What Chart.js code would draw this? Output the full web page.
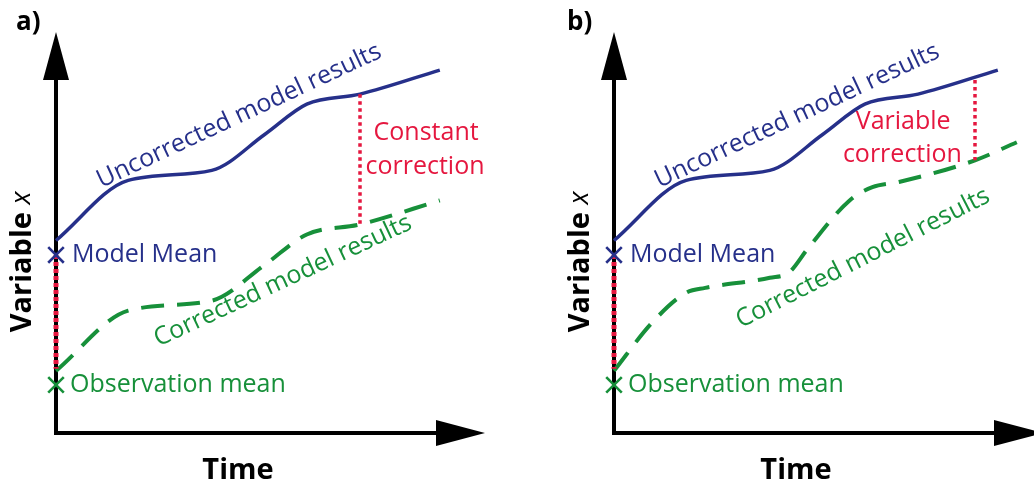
<!DOCTYPE html>
<html>
<head>
<meta charset="utf-8">
<script src="https://cdn.jsdelivr.net/npm/chart.js@4.4.1/dist/chart.umd.min.js"></script>
<style>
  html, body { margin: 0; padding: 0; background: #ffffff; }
  #wrap { display: flex; width: 1034px; height: 485px; overflow: hidden; }
  .panel { width: 517px; height: 485px; position: relative; }
</style>
</head>
<body>
<div id="wrap">
  <div class="panel"><canvas id="chartA" width="517" height="485"></canvas></div>
  <div class="panel"><canvas id="chartB" width="517" height="485"></canvas></div>
</div>
<script>
// ---- data (arbitrary time / variable units, axes run 0..10) ----
const timeUncorr      = [0, 1.9, 4.1, 5.5, 6.6, 8.0, 10.1];
const uncorrected     = [4.8, 6.3, 6.55, 7.45, 8.2, 8.45, 9.05];
const correctedConst  = [1.55, 3.05, 3.3, 4.2, 4.95, 5.2, 5.8];

const timeVar         = [0, 1.0, 1.9, 2.4, 4.1, 4.6, 5.1, 6.2, 6.8, 7.5, 9.5, 10.6];
const correctedVar    = [1.55, 2.75, 3.5, 3.62, 3.87, 4.0, 4.6, 5.8, 6.13, 6.26, 6.8, 7.25];

const modelMean       = 4.44;
const observationMean = 1.2;
const meanGapEnd      = 1.6;   // lower end of the mean-offset marker on the y axis

const constCorrTime   = 8.0;
const constCorrRange  = [8.45, 5.2];
const varCorrTime     = 9.5;
const varCorrRange    = [8.8, 6.8];

// ---- styling ----
const NAVY  = '#26308a';
const GREEN = '#17903a';
const RED   = '#e5173f';
const FONT  = '"Open Sans", "Noto Sans", sans-serif';
const LABEL_SIZE = 25;

function pts(xs, ys) { return xs.map((x, i) => ({ x: x, y: ys[i] })); }

function baseDatasets(correctedX, correctedY, corrTime, corrRange) {
  return [
    { // y-axis segment between the two means
      data: [{ x: 0, y: modelMean }, { x: 0, y: meanGapEnd }],
      borderColor: RED, borderWidth: 5, borderDash: [4, 3], pointRadius: 0, clip: false, order: 1
    },
    { // correction bar
      data: [{ x: corrTime, y: corrRange[0] }, { x: corrTime, y: corrRange[1] }],
      borderColor: RED, borderWidth: 3.5, borderDash: [3.5, 3.5], pointRadius: 0, clip: false, order: 1
    },
    { // uncorrected model output
      data: pts(timeUncorr, uncorrected),
      borderColor: NAVY, borderWidth: 3.5, cubicInterpolationMode: 'monotone',
      pointRadius: 0, clip: false, order: 2
    },
    { // corrected model output
      data: pts(correctedX, correctedY),
      borderColor: GREEN, borderWidth: 4, borderDash: [23, 13], cubicInterpolationMode: 'monotone',
      pointRadius: 0, clip: false, order: 3
    },
    { // model mean marker
      data: [{ x: 0, y: modelMean }],
      showLine: false, pointStyle: 'crossRot', pointRadius: 11, borderWidth: 2.6,
      borderColor: NAVY, clip: false, order: 0
    },
    { // observation mean marker
      data: [{ x: 0, y: observationMean }],
      showLine: false, pointStyle: 'crossRot', pointRadius: 11, borderWidth: 2.6,
      borderColor: GREEN, clip: false, order: 0
    }
  ];
}

// axes with arrow heads, panel letter, axis titles and annotations
const schematicPlugin = {
  id: 'schematic',
  beforeDatasetsDraw(chart, args, opts) {
    const ctx = chart.ctx, a = chart.chartArea;
    ctx.save();
    ctx.strokeStyle = '#000'; ctx.fillStyle = '#000'; ctx.lineWidth = 4;
    ctx.beginPath();
    ctx.moveTo(a.left, a.top + 40); ctx.lineTo(a.left, a.bottom);
    ctx.lineTo(a.right + 5, a.bottom);
    ctx.stroke();
    // y arrow
    ctx.beginPath();
    ctx.moveTo(a.left, a.top);
    ctx.lineTo(a.left - 13, a.top + 48);
    ctx.lineTo(a.left + 13, a.top + 48);
    ctx.closePath(); ctx.fill();
    // x arrow
    ctx.beginPath();
    ctx.moveTo(a.right + 49, a.bottom);
    ctx.lineTo(a.right, a.bottom - 13);
    ctx.lineTo(a.right, a.bottom + 13);
    ctx.closePath(); ctx.fill();
    ctx.restore();
  },
  afterDatasetsDraw(chart, args, opts) {
    const ctx = chart.ctx, a = chart.chartArea;
    const xs = chart.scales.x, ys = chart.scales.y;
    ctx.save();
    // panel letter
    ctx.fillStyle = '#000';
    ctx.font = 'bold 26px ' + FONT;
    ctx.textAlign = 'left'; ctx.textBaseline = 'middle';
    ctx.fillText(opts.letter, a.left - opts.letterOffset, 23);
    // x title
    ctx.font = 'bold 29px ' + FONT;
    ctx.textAlign = 'center';
    ctx.fillText('Time', a.left + 182, a.bottom + 38);
    // y title: bold word + italic symbol
    ctx.save();
    ctx.translate(a.left - 33, 262);
    ctx.rotate(-Math.PI / 2);
    const f1 = 'bold 29px ' + FONT, f2 = 'italic 27px ' + FONT;
    ctx.font = f1; const w1 = ctx.measureText('Variable ').width;
    ctx.font = f2; const w2 = ctx.measureText('x').width;
    let sx = -(w1 + w2) / 2;
    ctx.textAlign = 'left';
    ctx.font = f1; ctx.fillText('Variable ', sx, 0);
    ctx.font = f2; ctx.fillText('x', sx + w1, -1);
    ctx.restore();
    // annotations
    opts.labels.forEach(l => {
      ctx.save();
      ctx.translate(xs.getPixelForValue(l.x), ys.getPixelForValue(l.y));
      if (l.rot) ctx.rotate(l.rot * Math.PI / 180);
      ctx.font = LABEL_SIZE + 'px ' + FONT;
      ctx.fillStyle = l.color;
      ctx.textAlign = l.align || 'center';
      ctx.textBaseline = 'middle';
      ctx.fillText(l.text, 0, 0);
      ctx.restore();
    });
    ctx.restore();
  }
};

function makeChart(id, padLeft, padRight, datasets, letter, letterOffset, labels) {
  return new Chart(document.getElementById(id), {
    type: 'line',
    data: { datasets: datasets },
    options: {
      responsive: false,
      animation: false,
      layout: { padding: { left: padLeft, right: padRight, top: 32, bottom: 52 } },
      scales: {
        x: { type: 'linear', min: 0, max: 10, display: false },
        y: { type: 'linear', min: 0, max: 10, display: false }
      },
      plugins: {
        legend: { display: false },
        tooltip: { enabled: false },
        schematic: { letter: letter, letterOffset: letterOffset, labels: labels }
      }
    },
    plugins: [schematicPlugin]
  });
}

const commonLabels = [
  { text: 'Model Mean', x: 0.42, y: modelMean, align: 'left', color: NAVY },
  { text: 'Observation mean', x: 0.37, y: observationMean, align: 'left', color: GREEN },
  { text: 'Uncorrected model results', x: 4.82, y: 7.91, rot: -25, color: NAVY }
];

makeChart('chartA', 56, 81,
  baseDatasets(timeUncorr, correctedConst, constCorrTime, constCorrRange),
  'a)', 40,
  commonLabels.concat([
    { text: 'Constant', x: 9.74, y: 7.48, color: RED },
    { text: 'correction', x: 9.71, y: 6.63, color: RED },
    { text: 'Corrected model results', x: 5.97, y: 3.79, rot: -25, color: GREEN }
  ]));

makeChart('chartB', 97, 40,
  baseDatasets(timeVar, correctedVar, varCorrTime, varCorrRange),
  'b)', 47,
  commonLabels.concat([
    { text: 'Variable', x: 7.61, y: 7.76, color: RED },
    { text: 'correction', x: 7.59, y: 6.93, color: RED },
    { text: 'Corrected model results', x: 6.55, y: 4.36, rot: -27, color: GREEN }
  ]));
</script>
</body>
</html>
